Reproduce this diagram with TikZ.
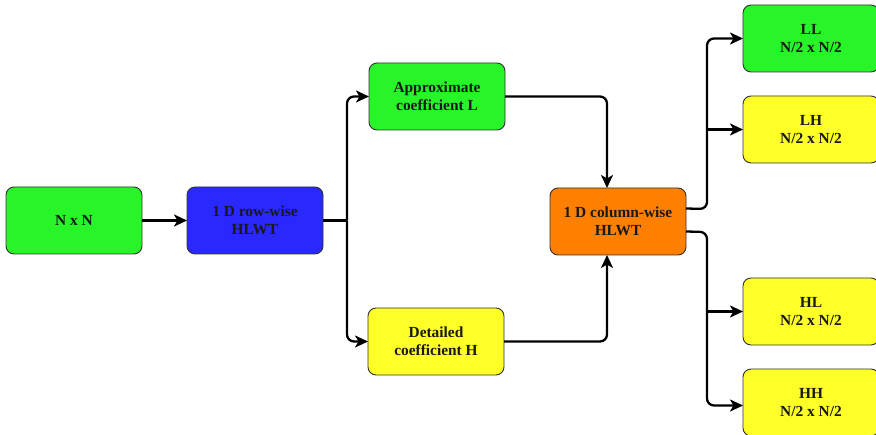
\documentclass[tikz,border=0pt]{standalone}
\usepackage{fontspec}
\setmainfont{Liberation Serif}
\usetikzlibrary{arrows.meta}
\definecolor{boxgreen}{RGB}{40,245,40}
\definecolor{boxyellow}{RGB}{255,255,40}
\definecolor{boxblue}{RGB}{40,40,255}
\definecolor{boxorange}{RGB}{255,128,0}
\definecolor{boxedge}{RGB}{50,50,50}
\tikzset{
  blk/.style={draw=boxedge, line width=0.9pt, rounded corners=8pt,
    minimum width=136pt, minimum height=67pt, inner sep=2pt, outer sep=0pt,
    anchor=north west, align=center, text=black!90,
    font=\fontsize{15.4}{17.7}\selectfont\bfseries},
  conn/.style={line width=2.3pt, rounded corners=7pt,
    -{Stealth[length=13pt,width=12pt,inset=3.5pt]}},
  wire/.style={line width=2.3pt, rounded corners=7pt},
}
\begin{document}
\begin{tikzpicture}[x=1pt,y=-1pt]
  \useasboundingbox (0,0) rectangle (876,435);

  % processing stages
  \node[blk, fill=boxgreen]  (nn)   at (6,187)   {N x N};
  \node[blk, fill=boxblue]   (row)  at (187,187) {1 D row-wise\\HLWT};
  \node[blk, fill=boxgreen]  (appr) at (369,63)  {Approximate\\coefficient L};
  \node[blk, fill=boxyellow] (det)  at (368,308) {Detailed\\coefficient H};
  \node[blk, fill=boxorange] (col)  at (550,188) {1 D column-wise\\HLWT};

  % sub-bands
  \node[blk, fill=boxgreen]  (ll) at (743,5)   {LL\\N/2 x N/2};
  \node[blk, fill=boxyellow] (lh) at (743,96)  {LH\\N/2 x N/2};
  \node[blk, fill=boxyellow] (hl) at (743,278) {HL\\N/2 x N/2};
  \node[blk, fill=boxyellow] (hh) at (743,369) {HH\\N/2 x N/2};

  % branch points
  \coordinate (rb) at (347,220.5);
  \coordinate (cu) at (707,209);
  \coordinate (cd) at (707,232);

  % row-wise transform
  \draw[conn] (nn.east) -- (row.east -| row.west);
  \draw[wire] (row.east) -- (rb);
  \draw[conn] (rb) |- (appr.west);
  \draw[conn] (rb) |- (det.west);

  % into the column-wise transform
  \draw[conn] (appr.east) -| ([xshift=-11pt]col.north);
  \draw[conn] (det.east) -| ([xshift=-11pt]col.south);

  % column-wise transform outputs
  \draw[conn] ([yshift=13pt]col.east) -- (cu) |- (ll.west);
  \draw[conn] (lh.west -| cu) -- (lh.west);
  \draw[conn] ([yshift=-10pt]col.east) -- (cd) |- ([yshift=-3pt]hh.west);
  \draw[conn] (hl.west -| cd) -- (hl.west);
\end{tikzpicture}
\end{document}
